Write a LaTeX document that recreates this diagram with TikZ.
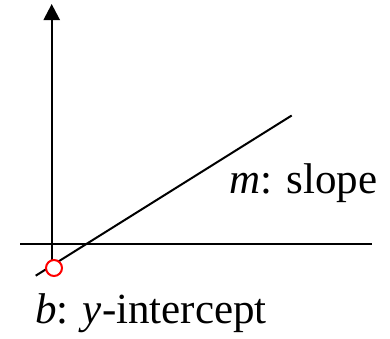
\documentclass[tikz,border=0pt]{standalone}
\usepackage{fontspec}
\setmainfont{Liberation Serif}
\usetikzlibrary{arrows.meta}

\begin{document}
\begin{tikzpicture}[
    x=1pt, y=-1pt,
    >={Triangle[width=16pt, length=16pt]},
    axis/.style={line width=2.4pt},
    fitline/.style={line width=2pt},
    icpt/.style={circle, draw=red, fill=white, line width=2pt, minimum size=16pt, inner sep=0pt},
    lbl/.style={font=\fontsize{43pt}{46pt}\selectfont, anchor=base west, inner sep=0pt},
]
\useasboundingbox (0,0) rectangle (390,338);
% --- axes ---
\coordinate (ybot) at (51.7, 262);
\coordinate (ytop) at (51.7, 4);
\coordinate (xl) at (20, 244);
\coordinate (xr) at (372, 244);
\draw[axis, ->] (ybot) -- (ytop);
\draw[axis] (xl) -- (xr);
% --- the line y = mx + b ---
\coordinate (lstart) at (35.7, 275.7);
\coordinate (lend) at (291.7, 115.5);
\draw[fitline] (lstart) -- (lend);
% --- intercept marker ---
\node[icpt] (b) at (54, 268) {};
% --- labels ---
\node[lbl] (slope) at (229, 193) {\textit{m}: slope};
\node[lbl] (intercept) at (35, 323) {\textit{b}: \textit{y}-intercept};
\end{tikzpicture}
\end{document}
